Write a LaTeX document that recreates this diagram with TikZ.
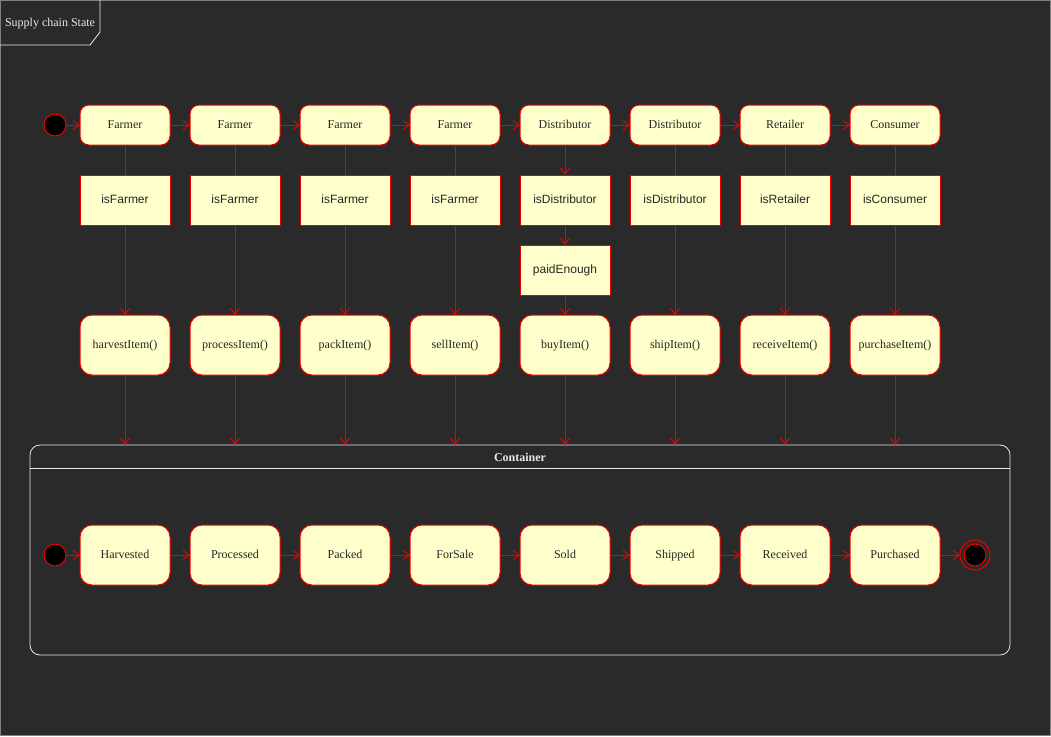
\documentclass[tikz,border=0pt]{standalone}
\usepackage{fontspec}
\setmainfont{Liberation Serif}
\setsansfont{Liberation Sans}
\usetikzlibrary{arrows.meta}
\definecolor{bg}{HTML}{2A2A2A}
\definecolor{statefill}{HTML}{FFFFCC}
\definecolor{stateline}{HTML}{EE0000}
\definecolor{arrowred}{HTML}{EE0000}
\definecolor{framegray}{HTML}{E8E8E8}
\begin{document}
\begin{tikzpicture}[x=1pt, y=-1pt,
	role style/.style={rectangle, draw=stateline, fill=statefill, line width=1pt, rounded corners=9pt, minimum width=90pt, minimum height=40pt, outer sep=0pt, text=black!85, text height=2ex, text depth=.4ex, font=\fontsize{12}{14}\selectfont},
	check style/.style={rectangle, draw=stateline, fill=statefill, line width=1pt, minimum width=90pt, minimum height=50pt, outer sep=0pt, text=black!85, text height=2ex, text depth=.4ex, font=\sffamily\fontsize{12}{14}\selectfont},
	call style/.style={role style, rounded corners=12pt, minimum height=60pt},
	start style/.style={circle, draw=stateline, fill=black, line width=1pt, minimum size=22pt, inner sep=0pt, outer sep=0pt},
	end style/.style={circle, draw=stateline, line width=1pt, minimum size=30pt, inner sep=0pt, outer sep=0pt},
	flow style/.style={draw=arrowred, line width=1pt, -{Straight Barb[length=6pt, width=9pt]}},
	link style/.style={draw=arrowred, line width=1pt}]
	\fill[bg] (0,0) rectangle (1051,736);
	\useasboundingbox (0,0) rectangle (1051,736);
	\draw[gray, line width=0.6pt] (0.5,0.5) rectangle (1050.5,735.5);
	% title tab
	\draw[framegray, line width=0.8pt] (100,0) -- (100,32) -- (90,45) -- (0,45);
	\node[text=framegray, font=\fontsize{12}{14}\selectfont] (T) at (50,24) {Supply chain State};
	% roles
	\node[start style] (S0) at (55,125) {};
	\node[role style] (R1) at (125,125) {Farmer};
	\node[role style] (R2) at (235,125) {Farmer};
	\node[role style] (R3) at (345,125) {Farmer};
	\node[role style] (R4) at (455,125) {Farmer};
	\node[role style] (R5) at (565,125) {Distributor};
	\node[role style] (R6) at (675,125) {Distributor};
	\node[role style] (R7) at (785,125) {Retailer};
	\node[role style] (R8) at (895,125) {Consumer};
	% checks
	\node[check style] (C1) at (125,200) {isFarmer};
	\node[check style] (C2) at (235,200) {isFarmer};
	\node[check style] (C3) at (345,200) {isFarmer};
	\node[check style] (C4) at (455,200) {isFarmer};
	\node[check style] (C5) at (565,200) {isDistributor};
	\node[check style] (C6) at (675,200) {isDistributor};
	\node[check style] (C7) at (785,200) {isRetailer};
	\node[check style] (C8) at (895,200) {isConsumer};
	\node[check style] (P) at (565,270) {paidEnough};
	% calls
	\node[call style] (F1) at (125,345) {harvestItem()};
	\node[call style] (F2) at (235,345) {processItem()};
	\node[call style] (F3) at (345,345) {packItem()};
	\node[call style] (F4) at (455,345) {sellItem()};
	\node[call style] (F5) at (565,345) {buyItem()};
	\node[call style] (F6) at (675,345) {shipItem()};
	\node[call style] (F7) at (785,345) {receiveItem()};
	\node[call style] (F8) at (895,345) {purchaseItem()};
	% container
	\node[draw=framegray, line width=0.8pt, rounded corners=10pt, minimum width=980pt, minimum height=210pt, outer sep=0pt] (cont) at (520,550) {};
	\draw[framegray, line width=0.8pt] ([yshift=-23pt]cont.north west) -- ([yshift=-23pt]cont.north east);
	\node[text=framegray, font=\bfseries\fontsize{12}{14}\selectfont] (CT) at ([yshift=-12.5pt]cont.north) {Container};
	\node[start style] (Z0) at (55,555) {};
	\node[call style] (Z1) at (125,555) {Harvested};
	\node[call style] (Z2) at (235,555) {Processed};
	\node[call style] (Z3) at (345,555) {Packed};
	\node[call style] (Z4) at (455,555) {ForSale};
	\node[call style] (Z5) at (565,555) {Sold};
	\node[call style] (Z6) at (675,555) {Shipped};
	\node[call style] (Z7) at (785,555) {Received};
	\node[call style] (Z8) at (895,555) {Purchased};
	\node[end style] (Z9) at (975,555) {};
	\node[start style] (Z9b) at (Z9) {};
	% connectors
	\draw[flow style] (S0) -- (R1);
	\draw[flow style] (Z0) -- (Z1);
	\foreach \i in {1,...,7}{
	\pgfmathtruncatemacro\j{\i+1}
	\draw[flow style] (R\i) -- (R\j);
	\draw[flow style] (Z\i) -- (Z\j);}
	\draw[flow style] (Z8) -- (Z9);
	\foreach \i in {1,2,3,4,6,7,8}{
	\draw[link style] (R\i) -- (C\i);
	\draw[flow style] (C\i) -- (F\i);}
	\draw[flow style] (R5) -- (C5);
	\draw[flow style] (C5) -- (P);
	\draw[flow style] (P) -- (F5);
	\foreach \i in {1,...,8}
	\draw[flow style] (F\i) -- (F\i |- cont.north);
\end{tikzpicture}
\end{document}
